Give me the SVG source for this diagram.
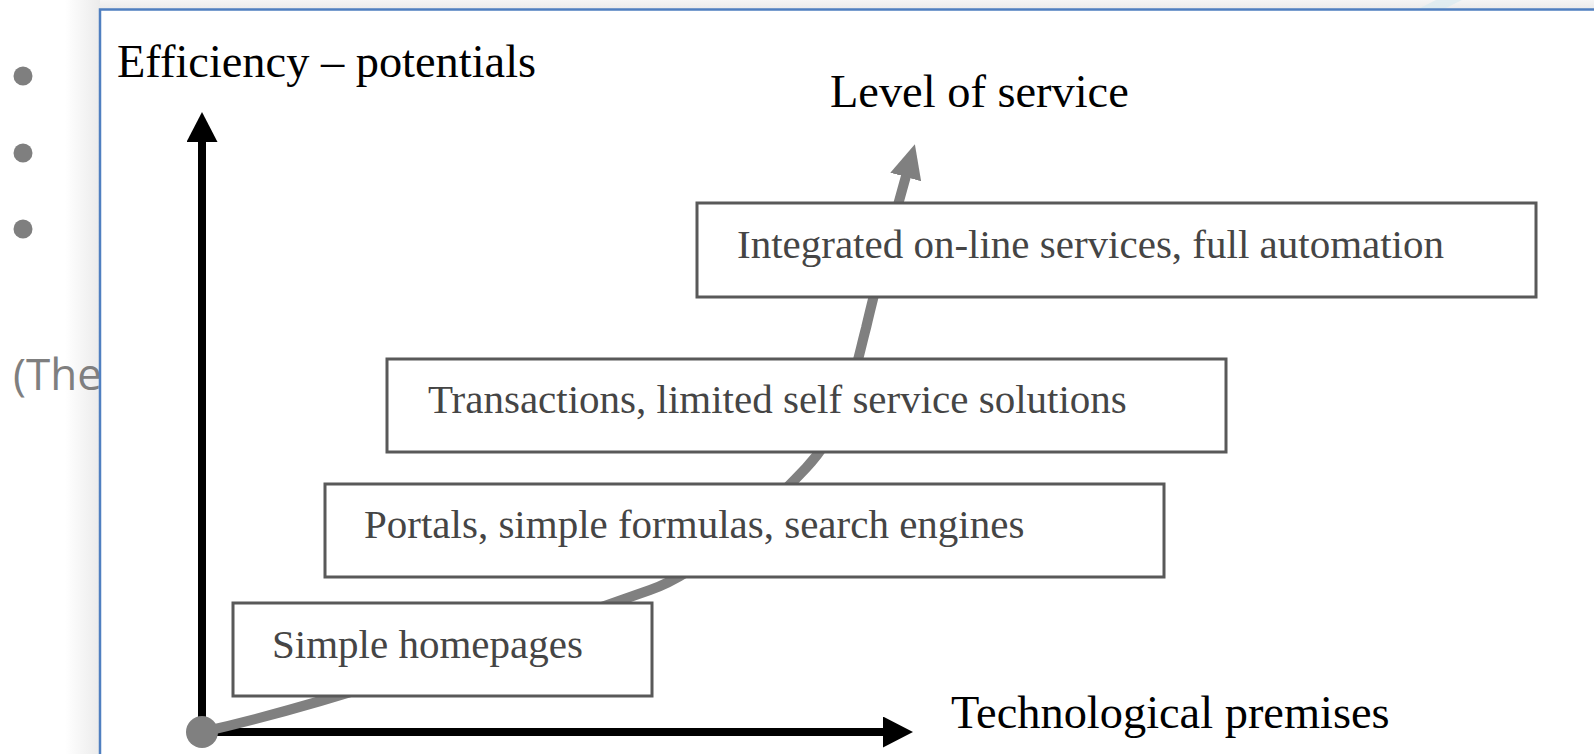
<svg xmlns="http://www.w3.org/2000/svg" width="1594" height="754" viewBox="0 0 1594 754">
  <defs>
    <style>
      .bullet{fill:#7f7f7f}
      .slide-text{font-family:"Open Sans","Liberation Sans",sans-serif;font-size:44px;fill:#7f7f7f}
      .axis-label{font-family:"Liberation Serif","Times New Roman",serif;font-size:46.4px;fill:#000}
      .box rect{fill:#fff;stroke:#595959;stroke-width:3}
      .box text{font-family:"Liberation Serif","Times New Roman",serif;font-size:41px;fill:#454545}
      .axis{stroke:#000;stroke-width:8;fill:none}
      .trend{stroke:#808080;stroke-width:10;fill:none}
    </style>
    <linearGradient id="shadowLeft" x1="0" y1="0" x2="1" y2="0">
      <stop offset="0" stop-color="#ffffff"/>
      <stop offset="1" stop-color="#ebebeb"/>
    </linearGradient>
    <linearGradient id="shadowTop" x1="0" y1="0" x2="0" y2="1">
      <stop offset="0" stop-color="#f5f5f5"/>
      <stop offset="1" stop-color="#e9e9e9"/>
    </linearGradient>
    <marker id="ahBlack" markerUnits="userSpaceOnUse" viewBox="0 0 30 31" markerWidth="30" markerHeight="31" refX="1" refY="15.5" orient="auto">
      <path d="M0,0 L30,15.5 L0,31 Z" fill="#000"/>
    </marker>
    <marker id="ahGrey" markerUnits="userSpaceOnUse" viewBox="0 0 34 32" markerWidth="34" markerHeight="32" refX="1" refY="16" orient="auto">
      <path d="M0,0 L34,16 L0,32 Z" fill="#808080"/>
    </marker>
  </defs>

  <!-- slide background -->
  <rect x="0" y="0" width="1594" height="754" fill="#fff"/>
  <rect x="100" y="0" width="1494" height="10" fill="url(#shadowTop)"/>
  <rect x="65" y="0" width="35" height="754" fill="url(#shadowLeft)"/>
  <path d="M1418,9 L1436,0 L1462,0 L1444,9 Z" fill="#d9e9ef" opacity="0.7"/>

  <g id="slide-bullets">
    <circle class="bullet" cx="23" cy="76" r="9.5"/>
    <circle class="bullet" cx="23" cy="153" r="9.5"/>
    <circle class="bullet" cx="23" cy="229" r="9.5"/>
    <text class="slide-text" x="13" y="390">(The</text>
  </g>

  <!-- picture frame -->
  <rect id="frame" x="100" y="9.5" width="1600" height="800" fill="#fff" stroke="#4f7fc0" stroke-width="2.5"/>

  <g id="connectors">
    <line class="axis" x1="202" y1="732" x2="202" y2="141" marker-end="url(#ahBlack)"/>
    <line class="axis" x1="202" y1="732" x2="884" y2="732" marker-end="url(#ahBlack)"/>
    <path class="trend" d="M202,732 C352,698 500,642.5 650,590 C705,571 768,508 806,468 C846,426 854.5,371.5 866,328 C876,285 894,219 906,176" marker-end="url(#ahGrey)"/>
  </g>

  <g id="origin">
    <circle cx="202" cy="732" r="16" fill="#808080"/>
  </g>

  <g id="label-efficiency">
    <text class="axis-label" x="117" y="77">Efficiency – potentials</text>
  </g>
  <g id="label-level">
    <text class="axis-label" x="830" y="107">Level of service</text>
  </g>
  <g id="label-tech">
    <text class="axis-label" x="951" y="728">Technological premises</text>
  </g>

  <g id="box-simple" class="box">
    <rect x="233" y="603" width="419" height="93"/>
    <text x="272" y="658">Simple homepages</text>
  </g>
  <g id="box-portals" class="box">
    <rect x="325" y="484" width="839" height="93"/>
    <text x="364" y="538">Portals, simple formulas, search engines</text>
  </g>
  <g id="box-transactions" class="box">
    <rect x="387" y="359" width="839" height="93"/>
    <text x="428" y="413">Transactions, limited self service solutions</text>
  </g>
  <g id="box-integrated" class="box">
    <rect x="697" y="203" width="839" height="94"/>
    <text x="737" y="258">Integrated on-line services, full automation</text>
  </g>
</svg>
